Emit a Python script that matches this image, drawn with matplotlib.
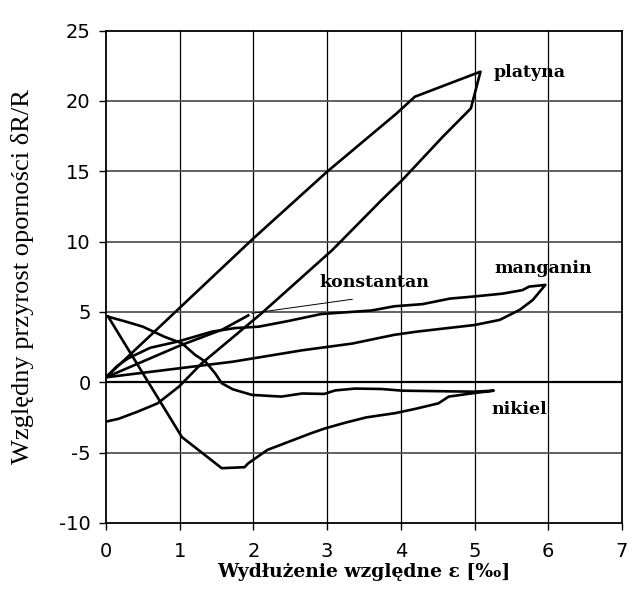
import matplotlib
matplotlib.use("Agg")
import matplotlib.pyplot as plt

plt.rcParams["axes.unicode_minus"] = False

# ---- data (strain in permille, relative resistance change) ----
platyna_x = [0, 2.0, 3.0, 3.94, 4.19, 5.08, 4.95, 4.57, 4.02, 3.74, 3.07, 2.11, 1.3, 0.99, 0.7, 0.43, 0.17, 0]
platyna_y = [0.35, 10.23, 14.97, 19.1, 20.3, 22.08, 19.47, 17.46, 14.38, 12.96, 9.4, 4.9, 1.35, -0.31, -1.5, -2.09, -2.6, -2.8]

manganin_x = [0, 0.15, 0.3, 0.6, 0.98, 1.44, 1.75, 2.07, 2.47, 2.92, 3.6, 3.91, 4.29, 4.67, 5.0, 5.38, 5.65, 5.74, 5.96,
              5.79, 5.61, 5.34, 5.0, 4.22, 3.91, 3.34, 2.66, 1.72, 0]
manganin_y = [0.35, 1.15, 1.7, 2.45, 2.9, 3.6, 3.85, 3.95, 4.35, 4.85, 5.1, 5.4, 5.55, 5.95, 6.1, 6.3, 6.55, 6.8, 6.92,
              5.85, 5.14, 4.43, 4.07, 3.6, 3.37, 2.75, 2.27, 1.46, 0.35]

konstantan_x = [0, 1.0, 1.58, 1.93]
konstantan_y = [0.35, 2.6, 3.75, 4.75]
konst_leader_x = [1.98, 3.34]
konst_leader_y = [4.9, 5.9]

nikiel_x = [0.03, 0.27, 0.5, 0.79, 1.03, 1.21, 1.35, 1.48, 1.57, 1.72, 1.98, 2.38, 2.66, 2.96, 3.11, 3.38, 3.74, 4.02, 4.98, 5.26,
            4.98, 4.65, 4.51, 4.19, 3.92, 3.53, 3.25, 2.96, 2.78, 2.19, 1.93, 1.88, 1.57, 1.03, 0.03]
nikiel_y = [4.66, 4.31, 3.95, 3.24, 2.77, 1.94, 1.46, 0.64, -0.07, -0.5, -0.9, -1.02, -0.8, -0.83, -0.58, -0.45, -0.48, -0.6, -0.67, -0.6,
            -0.78, -1.02, -1.5, -1.9, -2.2, -2.5, -2.87, -3.3, -3.63, -4.81, -5.76, -6.04, -6.11, -3.9, 4.66]

labels = ["platyna", "manganin", "konstantan", "nikiel"]
label_x = [5.75, 5.93, 3.64, 5.6]
label_y = [22.05, 8.12, 7.06, -1.97]

x_ticks = [0, 1, 2, 3, 4, 5, 6, 7]
y_ticks = [-10, -5, 0, 5, 10, 15, 20, 25]

# ---- figure ----
W, H = 642, 593
fig = plt.figure(figsize=(W / 100, H / 100), dpi=100)
ax = fig.add_axes([106 / W, (H - 522.9) / H, (622 - 106) / W, 492.3 / H])
ax.set_xlim(0, 7)
ax.set_ylim(-10, 25)
ax.set_xticks(x_ticks)
ax.set_yticks(y_ticks)

for v in x_ticks[1:-1]:
    ax.axvline(v, color="black", lw=0.9, zorder=1)
for v in y_ticks[1:-1]:
    ax.axhline(v, color="#555555" if v != 0 else "black", lw=1.3 if v != 0 else 1.6, zorder=1)

lw = 1.9
ax.plot(platyna_x, platyna_y, color="black", lw=lw, zorder=3)
ax.plot(manganin_x, manganin_y, color="black", lw=lw, zorder=3)
ax.plot(konstantan_x, konstantan_y, color="black", lw=lw, zorder=3)
ax.plot(nikiel_x, nikiel_y, color="black", lw=lw, zorder=3)
ax.plot(konst_leader_x, konst_leader_y, color="black", lw=0.7, zorder=3)

serif = "DejaVu Serif"
for t, tx, ty in zip(labels, label_x, label_y):
    ax.text(tx, ty, t, ha="center", va="center", fontsize=12.5, family=serif, weight="bold")

for s in ax.spines.values():
    s.set_color("black")
    s.set_linewidth(1.3)

ax.tick_params(axis="both", direction="out", length=5, width=1, color="black", labelsize=14)
ax.tick_params(axis="x", pad=9)
ax.tick_params(axis="y", pad=6)
for lab in ax.get_xticklabels() + ax.get_yticklabels():
    lab.set_family("DejaVu Sans")

ax.set_xlabel("Wydłużenie względne ε [‰]", fontsize=13.5, family=serif, weight="bold", labelpad=1)
ax.set_ylabel("Względny przyrost oporności δR/R", fontsize=19, family="Liberation Serif", labelpad=18)

fig.savefig("out.png", dpi=100)
